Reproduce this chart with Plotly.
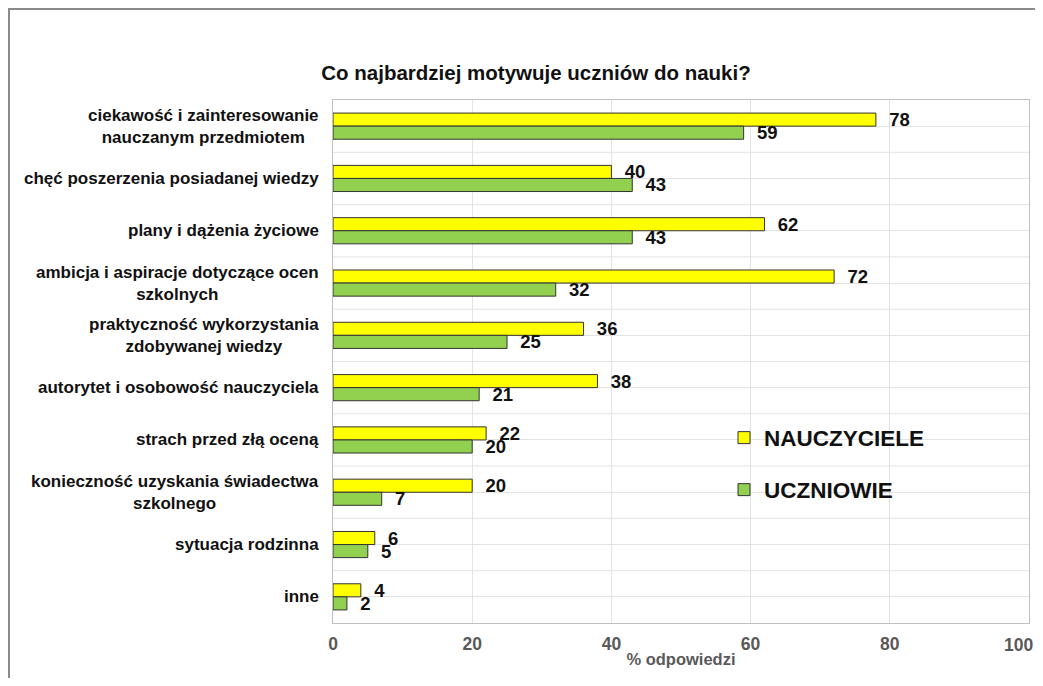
import plotly.graph_objects as go

categories = [
    "ciekawość i zainteresowanie<br>nauczanym przedmiotem",
    "chęć poszerzenia posiadanej wiedzy",
    "plany i dążenia życiowe",
    "ambicja i aspiracje dotyczące ocen<br>szkolnych",
    "praktyczność wykorzystania<br>zdobywanej wiedzy",
    "autorytet i osobowość nauczyciela",
    "strach przed złą oceną",
    "konieczność uzyskania świadectwa<br>szkolnego",
    "sytuacja rodzinna",
    "inne",
]
nauczyciele = [78, 40, 62, 72, 36, 38, 22, 20, 6, 4]
uczniowie = [59, 43, 43, 32, 25, 21, 20, 7, 5, 2]
x_ticks = [0, 20, 40, 60, 80, 100]
x_tick_labels = ["0", "20", "40", "60", "80", "100"]

FONT = "Liberation Sans, Arial, sans-serif"
OFF = 8  # page body margin
W, H = 1043 - 2 * OFF, 686 - 2 * OFF
L = 333 - OFF
R = W - (1029 - OFF)
T = 100 - OFF
B = H - (623 - OFF)
pw, ph = W - L - R, H - T - B


def px_x(page_x):
    return (page_x - OFF - L) / pw


def px_y(page_y):
    return (H - B - (page_y - OFF)) / ph


TICKFONT = dict(family=FONT, size=17.5, color="#595959", weight="bold")

fig = go.Figure()
fig.add_trace(go.Bar(
    y=categories, x=nauczyciele, orientation="h", name="NAUCZYCIELE",
    marker=dict(color="#FFFF00", line=dict(color="#333333", width=1)),
    texttemplate="\u00a0\u00a0%{x}", textposition="outside", cliponaxis=False,
    constraintext="none",
    textfont=dict(family=FONT, size=18.5, color="#111111", weight="bold"),
    legend="legend",
))
fig.add_trace(go.Bar(
    y=categories, x=uczniowie, orientation="h", name="UCZNIOWIE",
    marker=dict(color="#92D050", line=dict(color="#333333", width=1)),
    texttemplate="\u00a0\u00a0%{x}", textposition="outside", cliponaxis=False,
    constraintext="none",
    textfont=dict(family=FONT, size=18.5, color="#111111", weight="bold"),
    legend="legend2",
))

# category labels (centered multi-line, right-aligned block)
for c in categories:
    fig.add_annotation(
        x=0, xref="paper", y=c, yref="y", xanchor="right", yanchor="middle",
        xshift=-12, text=c, showarrow=False, align="center",
        font=dict(family=FONT, size=17, color="#111111", weight="bold"),
    )

# last x tick label, kept inside the figure edge
fig.add_annotation(
    x=x_ticks[-1], xref="x", y=0, yref="paper", xanchor="right", yanchor="top",
    xshift=6, yshift=-10, text=x_tick_labels[-1], showarrow=False,
    font=TICKFONT,
)

# horizontal gridlines at category boundaries
for i in range(len(categories) - 1):
    fig.add_shape(type="line", xref="paper", x0=0, x1=1, yref="y",
                  y0=i + 0.5, y1=i + 0.5, line=dict(color="#e3e3e3", width=1),
                  layer="below")

# outer frame
fig.add_shape(type="rect", xref="paper", yref="paper",
              x0=px_x(9), x1=1.5, y0=-0.5, y1=px_y(9),
              line=dict(color="#8a8a8a", width=2), layer="below")

fig.update_layout(
    width=W, height=H,
    margin=dict(l=L, r=R, t=T, b=B, autoexpand=False),
    paper_bgcolor="white", plot_bgcolor="white",
    barmode="group", bargap=0.5, bargroupgap=0,
    title=dict(text="Co najbardziej motywuje uczniów do nauki?",
               x=(536 - OFF) / W, xref="container", xanchor="center",
               y=1 - (73 - OFF) / H, yref="container", yanchor="middle",
               font=dict(family=FONT, size=20.5, color="#111111", weight="bold")),
    legend=dict(x=px_x(716 + OFF), y=px_y(438), xanchor="left", yanchor="middle",
                font=dict(family=FONT, size=22.5, color="#111111", weight="bold"),
                bgcolor="rgba(0,0,0,0)", itemwidth=30),
    legend2=dict(x=px_x(716 + OFF), y=px_y(490), xanchor="left", yanchor="middle",
                 font=dict(family=FONT, size=22.5, color="#111111", weight="bold"),
                 bgcolor="rgba(0,0,0,0)", itemwidth=30),
    showlegend=True,
)
fig.update_xaxes(
    range=[0, 100], tickvals=x_ticks,
    ticktext=x_tick_labels[:-1] + [""],
    showgrid=True, gridcolor="#e3e3e3",
    showline=True, linecolor="#bfbfbf", linewidth=1, mirror=True,
    zeroline=False, ticks="", ticklen=0,
    ticklabelstandoff=5, automargin=False,
    tickfont=TICKFONT,
    title=dict(text="% odpowiedzi", standoff=0,
               font=dict(family=FONT, size=16.5, color="#595959", weight="bold")),
)
fig.update_yaxes(
    type="category", categoryorder="array", categoryarray=categories,
    range=[len(categories) - 0.5, -0.5], showticklabels=False,
    showgrid=True, gridcolor="#e3e3e3", automargin=False,
    showline=True, linecolor="#bfbfbf", linewidth=1, mirror=True, ticks="",
)

fig.write_html("out.html")
